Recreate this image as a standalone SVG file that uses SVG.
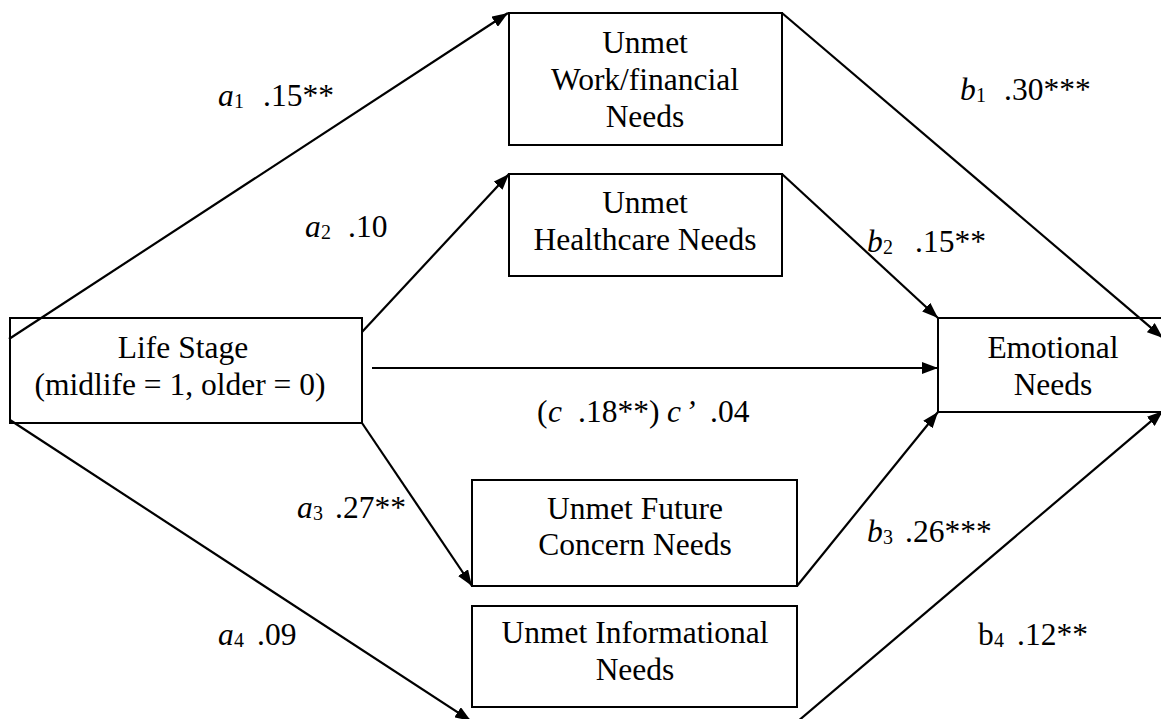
<svg xmlns="http://www.w3.org/2000/svg" width="1161" height="719" viewBox="0 0 1161 719">
<style>
  .box{fill:#fff;stroke:#000;stroke-width:2}
  .t{font-family:"Liberation Serif","Times New Roman",serif;font-size:31.5px;fill:#000}
  .nt{text-anchor:middle}
  .i{font-style:italic}
  .s{font-size:20px}
  .cn line{stroke:#000;stroke-width:2.2;marker-end:url(#ah)}
</style>
<defs>
  <marker id="ah" viewBox="0 0 16 12" refX="16" refY="6" markerWidth="16" markerHeight="12" markerUnits="userSpaceOnUse" orient="auto">
    <path d="M0,0 L16,6 L0,12 z" fill="#000"/>
  </marker>
</defs>
<rect width="1161" height="719" fill="#fff"/>
<g id="n-work">
  <rect class="box" x="509" y="13" width="273" height="132"/>
  <text class="t nt" x="645" y="53">Unmet</text>
  <text class="t nt" x="645" y="90">Work/financial</text>
  <text class="t nt" x="645" y="127">Needs</text>
</g>
<g id="n-health">
  <rect class="box" x="509" y="174" width="273" height="102"/>
  <text class="t nt" x="645" y="213">Unmet</text>
  <text class="t nt" x="645" y="250">Healthcare Needs</text>
</g>
<g id="n-life">
  <rect class="box" x="10" y="318" width="352" height="105"/>
  <text class="t nt" x="183" y="358">Life Stage</text>
  <text class="t nt" x="180" y="395">(midlife = 1, older = 0)</text>
</g>
<g id="n-emotional">
  <rect class="box" x="938" y="318" width="240" height="94"/>
  <text class="t nt" x="1053" y="358">Emotional</text>
  <text class="t nt" x="1053" y="395">Needs</text>
</g>
<g id="n-future">
  <rect class="box" x="472" y="480" width="325" height="106"/>
  <text class="t nt" x="635" y="519">Unmet Future</text>
  <text class="t nt" x="635" y="555">Concern Needs</text>
</g>
<g id="n-info">
  <rect class="box" x="472" y="606" width="325" height="101"/>
  <text class="t nt" x="635" y="643">Unmet Informational</text>
  <text class="t nt" x="635" y="680">Needs</text>
</g>
<g id="connectors" class="cn">
  <line x1="9" y1="339" x2="508" y2="13"/>
  <line x1="362" y1="332" x2="509" y2="174"/>
  <line x1="372" y1="368" x2="938" y2="368"/>
  <line x1="362" y1="423" x2="472" y2="586"/>
  <line x1="10" y1="420" x2="471" y2="721"/>
  <line x1="782" y1="13" x2="1163" y2="338"/>
  <line x1="782" y1="174" x2="938" y2="318"/>
  <line x1="797" y1="586" x2="938" y2="412"/>
  <line x1="797" y1="722" x2="1163" y2="411"/>
</g>
<g id="labels">
  <text class="t i" x="218" y="106">a</text><text class="t s" x="234" y="108">1</text><text class="t" x="263" y="106">.15**</text>
  <text class="t i" x="305" y="237">a</text><text class="t s" x="321" y="239">2</text><text class="t" x="348" y="237">.10</text>
  <text class="t i" x="960" y="100">b</text><text class="t s" x="976" y="102">1</text><text class="t" x="1004" y="100">.30***</text>
  <text class="t i" x="867" y="252">b</text><text class="t s" x="883" y="254">2</text><text class="t" x="915" y="252">.15**</text>
  <text class="t" x="537" y="422">(</text><text class="t i" x="548" y="422">c</text><text class="t" x="578" y="422">.18**)</text><text class="t i" x="667" y="422">c</text><text class="t i" x="685" y="422">’</text><text class="t" x="710" y="422">.04</text>
  <text class="t i" x="297" y="518">a</text><text class="t s" x="313" y="520">3</text><text class="t" x="335" y="518">.27**</text>
  <text class="t i" x="867" y="542">b</text><text class="t s" x="883" y="544">3</text><text class="t" x="905" y="542">.26***</text>
  <text class="t i" x="218" y="645">a</text><text class="t s" x="234" y="647">4</text><text class="t" x="257" y="645">.09</text>
  <text class="t" x="978" y="645">b</text><text class="t s" x="994" y="647">4</text><text class="t" x="1017" y="645">.12**</text>
</g>
</svg>
